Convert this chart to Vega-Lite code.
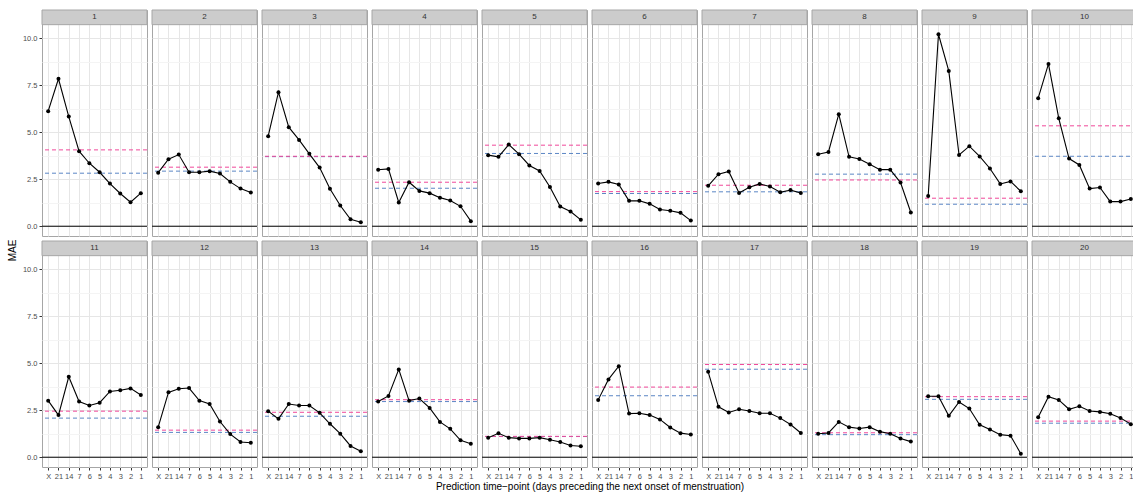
{
  "$schema": "https://vega.github.io/schema/vega-lite/v6.json",
  "padding": {"left": 8, "top": 8, "right": 0, "bottom": 2},
  "background": "white",
  "bounds": "flush",
  "title": {"text": "MAE", "orient": "left", "anchor": "middle", "fontSize": 10, "fontWeight": "normal", "font": "Liberation Sans", "color": "#000000", "offset": 4},
  "data": {"values": [
    {"panel":1,"kind":"mae","tp":"X","value":6.12},{"panel":1,"kind":"mae","tp":"21","value":7.84},{"panel":1,"kind":"mae","tp":"14","value":5.83},{"panel":1,"kind":"mae","tp":"7","value":3.99},{"panel":1,"kind":"mae","tp":"6","value":3.35},{"panel":1,"kind":"mae","tp":"5","value":2.87},{"panel":1,"kind":"mae","tp":"4","value":2.27},{"panel":1,"kind":"mae","tp":"3","value":1.74},{"panel":1,"kind":"mae","tp":"2","value":1.28},{"panel":1,"kind":"mae","tp":"1","value":1.76},
    {"panel":1,"kind":"pink","value":4.06},{"panel":1,"kind":"blue","value":2.82},
    {"panel":2,"kind":"mae","tp":"X","value":2.85},{"panel":2,"kind":"mae","tp":"21","value":3.56},{"panel":2,"kind":"mae","tp":"14","value":3.81},{"panel":2,"kind":"mae","tp":"7","value":2.87},{"panel":2,"kind":"mae","tp":"6","value":2.87},{"panel":2,"kind":"mae","tp":"5","value":2.93},{"panel":2,"kind":"mae","tp":"4","value":2.80},{"panel":2,"kind":"mae","tp":"3","value":2.36},{"panel":2,"kind":"mae","tp":"2","value":2.00},{"panel":2,"kind":"mae","tp":"1","value":1.79},
    {"panel":2,"kind":"pink","value":3.14},{"panel":2,"kind":"blue","value":2.93},
    {"panel":3,"kind":"mae","tp":"X","value":4.79},{"panel":3,"kind":"mae","tp":"21","value":7.13},{"panel":3,"kind":"mae","tp":"14","value":5.27},{"panel":3,"kind":"mae","tp":"7","value":4.59},{"panel":3,"kind":"mae","tp":"6","value":3.85},{"panel":3,"kind":"mae","tp":"5","value":3.12},{"panel":3,"kind":"mae","tp":"4","value":1.99},{"panel":3,"kind":"mae","tp":"3","value":1.10},{"panel":3,"kind":"mae","tp":"2","value":0.37},{"panel":3,"kind":"mae","tp":"1","value":0.21},
    {"panel":3,"kind":"pink","value":3.72},{"panel":3,"kind":"blue","value":3.70},
    {"panel":4,"kind":"mae","tp":"X","value":3.00},{"panel":4,"kind":"mae","tp":"21","value":3.05},{"panel":4,"kind":"mae","tp":"14","value":1.26},{"panel":4,"kind":"mae","tp":"7","value":2.34},{"panel":4,"kind":"mae","tp":"6","value":1.88},{"panel":4,"kind":"mae","tp":"5","value":1.76},{"panel":4,"kind":"mae","tp":"4","value":1.52},{"panel":4,"kind":"mae","tp":"3","value":1.37},{"panel":4,"kind":"mae","tp":"2","value":1.06},{"panel":4,"kind":"mae","tp":"1","value":0.27},
    {"panel":4,"kind":"pink","value":2.34},{"panel":4,"kind":"blue","value":2.02},
    {"panel":5,"kind":"mae","tp":"X","value":3.78},{"panel":5,"kind":"mae","tp":"21","value":3.69},{"panel":5,"kind":"mae","tp":"14","value":4.34},{"panel":5,"kind":"mae","tp":"7","value":3.83},{"panel":5,"kind":"mae","tp":"6","value":3.23},{"panel":5,"kind":"mae","tp":"5","value":2.94},{"panel":5,"kind":"mae","tp":"4","value":2.09},{"panel":5,"kind":"mae","tp":"3","value":1.05},{"panel":5,"kind":"mae","tp":"2","value":0.78},{"panel":5,"kind":"mae","tp":"1","value":0.34},
    {"panel":5,"kind":"pink","value":4.31},{"panel":5,"kind":"blue","value":3.87},
    {"panel":6,"kind":"mae","tp":"X","value":2.27},{"panel":6,"kind":"mae","tp":"21","value":2.36},{"panel":6,"kind":"mae","tp":"14","value":2.22},{"panel":6,"kind":"mae","tp":"7","value":1.35},{"panel":6,"kind":"mae","tp":"6","value":1.35},{"panel":6,"kind":"mae","tp":"5","value":1.19},{"panel":6,"kind":"mae","tp":"4","value":0.89},{"panel":6,"kind":"mae","tp":"3","value":0.82},{"panel":6,"kind":"mae","tp":"2","value":0.71},{"panel":6,"kind":"mae","tp":"1","value":0.30},
    {"panel":6,"kind":"pink","value":1.84},{"panel":6,"kind":"blue","value":1.74},
    {"panel":7,"kind":"mae","tp":"X","value":2.15},{"panel":7,"kind":"mae","tp":"21","value":2.77},{"panel":7,"kind":"mae","tp":"14","value":2.91},{"panel":7,"kind":"mae","tp":"7","value":1.77},{"panel":7,"kind":"mae","tp":"6","value":2.07},{"panel":7,"kind":"mae","tp":"5","value":2.25},{"panel":7,"kind":"mae","tp":"4","value":2.11},{"panel":7,"kind":"mae","tp":"3","value":1.81},{"panel":7,"kind":"mae","tp":"2","value":1.92},{"panel":7,"kind":"mae","tp":"1","value":1.77},
    {"panel":7,"kind":"pink","value":2.18},{"panel":7,"kind":"blue","value":1.83},
    {"panel":8,"kind":"mae","tp":"X","value":3.83},{"panel":8,"kind":"mae","tp":"21","value":3.95},{"panel":8,"kind":"mae","tp":"14","value":5.96},{"panel":8,"kind":"mae","tp":"7","value":3.69},{"panel":8,"kind":"mae","tp":"6","value":3.58},{"panel":8,"kind":"mae","tp":"5","value":3.30},{"panel":8,"kind":"mae","tp":"4","value":3.01},{"panel":8,"kind":"mae","tp":"3","value":3.01},{"panel":8,"kind":"mae","tp":"2","value":2.32},{"panel":8,"kind":"mae","tp":"1","value":0.73},
    {"panel":8,"kind":"pink","value":2.46},{"panel":8,"kind":"blue","value":2.77},
    {"panel":9,"kind":"mae","tp":"X","value":1.61},{"panel":9,"kind":"mae","tp":"21","value":10.21},{"panel":9,"kind":"mae","tp":"14","value":8.26},{"panel":9,"kind":"mae","tp":"7","value":3.79},{"panel":9,"kind":"mae","tp":"6","value":4.26},{"panel":9,"kind":"mae","tp":"5","value":3.71},{"panel":9,"kind":"mae","tp":"4","value":3.07},{"panel":9,"kind":"mae","tp":"3","value":2.25},{"panel":9,"kind":"mae","tp":"2","value":2.38},{"panel":9,"kind":"mae","tp":"1","value":1.86},
    {"panel":9,"kind":"pink","value":1.49},{"panel":9,"kind":"blue","value":1.17},
    {"panel":10,"kind":"mae","tp":"X","value":6.81},{"panel":10,"kind":"mae","tp":"21","value":8.63},{"panel":10,"kind":"mae","tp":"14","value":5.74},{"panel":10,"kind":"mae","tp":"7","value":3.60},{"panel":10,"kind":"mae","tp":"6","value":3.26},{"panel":10,"kind":"mae","tp":"5","value":2.00},{"panel":10,"kind":"mae","tp":"4","value":2.06},{"panel":10,"kind":"mae","tp":"3","value":1.31},{"panel":10,"kind":"mae","tp":"2","value":1.31},{"panel":10,"kind":"mae","tp":"1","value":1.45},
    {"panel":10,"kind":"pink","value":5.34},{"panel":10,"kind":"blue","value":3.72},
    {"panel":11,"kind":"mae","tp":"X","value":3.01},{"panel":11,"kind":"mae","tp":"21","value":2.24},{"panel":11,"kind":"mae","tp":"14","value":4.28},{"panel":11,"kind":"mae","tp":"7","value":2.96},{"panel":11,"kind":"mae","tp":"6","value":2.75},{"panel":11,"kind":"mae","tp":"5","value":2.90},{"panel":11,"kind":"mae","tp":"4","value":3.50},{"panel":11,"kind":"mae","tp":"3","value":3.56},{"panel":11,"kind":"mae","tp":"2","value":3.66},{"panel":11,"kind":"mae","tp":"1","value":3.31},
    {"panel":11,"kind":"pink","value":2.45},{"panel":11,"kind":"blue","value":2.08},
    {"panel":12,"kind":"mae","tp":"X","value":1.60},{"panel":12,"kind":"mae","tp":"21","value":3.45},{"panel":12,"kind":"mae","tp":"14","value":3.64},{"panel":12,"kind":"mae","tp":"7","value":3.68},{"panel":12,"kind":"mae","tp":"6","value":3.01},{"panel":12,"kind":"mae","tp":"5","value":2.83},{"panel":12,"kind":"mae","tp":"4","value":1.90},{"panel":12,"kind":"mae","tp":"3","value":1.23},{"panel":12,"kind":"mae","tp":"2","value":0.81},{"panel":12,"kind":"mae","tp":"1","value":0.77},
    {"panel":12,"kind":"pink","value":1.44},{"panel":12,"kind":"blue","value":1.32},
    {"panel":13,"kind":"mae","tp":"X","value":2.45},{"panel":13,"kind":"mae","tp":"21","value":2.04},{"panel":13,"kind":"mae","tp":"14","value":2.83},{"panel":13,"kind":"mae","tp":"7","value":2.75},{"panel":13,"kind":"mae","tp":"6","value":2.75},{"panel":13,"kind":"mae","tp":"5","value":2.36},{"panel":13,"kind":"mae","tp":"4","value":1.78},{"panel":13,"kind":"mae","tp":"3","value":1.25},{"panel":13,"kind":"mae","tp":"2","value":0.60},{"panel":13,"kind":"mae","tp":"1","value":0.32},
    {"panel":13,"kind":"pink","value":2.39},{"panel":13,"kind":"blue","value":2.18},
    {"panel":14,"kind":"mae","tp":"X","value":2.96},{"panel":14,"kind":"mae","tp":"21","value":3.26},{"panel":14,"kind":"mae","tp":"14","value":4.67},{"panel":14,"kind":"mae","tp":"7","value":3.01},{"panel":14,"kind":"mae","tp":"6","value":3.12},{"panel":14,"kind":"mae","tp":"5","value":2.62},{"panel":14,"kind":"mae","tp":"4","value":1.88},{"panel":14,"kind":"mae","tp":"3","value":1.51},{"panel":14,"kind":"mae","tp":"2","value":0.90},{"panel":14,"kind":"mae","tp":"1","value":0.72},
    {"panel":14,"kind":"pink","value":3.06},{"panel":14,"kind":"blue","value":2.96},
    {"panel":15,"kind":"mae","tp":"X","value":1.04},{"panel":15,"kind":"mae","tp":"21","value":1.27},{"panel":15,"kind":"mae","tp":"14","value":1.04},{"panel":15,"kind":"mae","tp":"7","value":1.00},{"panel":15,"kind":"mae","tp":"6","value":1.00},{"panel":15,"kind":"mae","tp":"5","value":1.04},{"panel":15,"kind":"mae","tp":"4","value":0.93},{"panel":15,"kind":"mae","tp":"3","value":0.81},{"panel":15,"kind":"mae","tp":"2","value":0.62},{"panel":15,"kind":"mae","tp":"1","value":0.58},
    {"panel":15,"kind":"pink","value":1.11},{"panel":15,"kind":"blue","value":1.10},
    {"panel":16,"kind":"mae","tp":"X","value":3.05},{"panel":16,"kind":"mae","tp":"21","value":4.14},{"panel":16,"kind":"mae","tp":"14","value":4.84},{"panel":16,"kind":"mae","tp":"7","value":2.32},{"panel":16,"kind":"mae","tp":"6","value":2.34},{"panel":16,"kind":"mae","tp":"5","value":2.24},{"panel":16,"kind":"mae","tp":"4","value":2.01},{"panel":16,"kind":"mae","tp":"3","value":1.58},{"panel":16,"kind":"mae","tp":"2","value":1.28},{"panel":16,"kind":"mae","tp":"1","value":1.21},
    {"panel":16,"kind":"pink","value":3.73},{"panel":16,"kind":"blue","value":3.27},
    {"panel":17,"kind":"mae","tp":"X","value":4.54},{"panel":17,"kind":"mae","tp":"21","value":2.68},{"panel":17,"kind":"mae","tp":"14","value":2.38},{"panel":17,"kind":"mae","tp":"7","value":2.55},{"panel":17,"kind":"mae","tp":"6","value":2.46},{"panel":17,"kind":"mae","tp":"5","value":2.34},{"panel":17,"kind":"mae","tp":"4","value":2.34},{"panel":17,"kind":"mae","tp":"3","value":2.08},{"panel":17,"kind":"mae","tp":"2","value":1.74},{"panel":17,"kind":"mae","tp":"1","value":1.29},
    {"panel":17,"kind":"pink","value":4.93},{"panel":17,"kind":"blue","value":4.68},
    {"panel":18,"kind":"mae","tp":"X","value":1.25},{"panel":18,"kind":"mae","tp":"21","value":1.29},{"panel":18,"kind":"mae","tp":"14","value":1.88},{"panel":18,"kind":"mae","tp":"7","value":1.60},{"panel":18,"kind":"mae","tp":"6","value":1.53},{"panel":18,"kind":"mae","tp":"5","value":1.60},{"panel":18,"kind":"mae","tp":"4","value":1.36},{"panel":18,"kind":"mae","tp":"3","value":1.25},{"panel":18,"kind":"mae","tp":"2","value":1.00},{"panel":18,"kind":"mae","tp":"1","value":0.83},
    {"panel":18,"kind":"pink","value":1.30},{"panel":18,"kind":"blue","value":1.20},
    {"panel":19,"kind":"mae","tp":"X","value":3.24},{"panel":19,"kind":"mae","tp":"21","value":3.24},{"panel":19,"kind":"mae","tp":"14","value":2.20},{"panel":19,"kind":"mae","tp":"7","value":2.94},{"panel":19,"kind":"mae","tp":"6","value":2.59},{"panel":19,"kind":"mae","tp":"5","value":1.73},{"panel":19,"kind":"mae","tp":"4","value":1.48},{"panel":19,"kind":"mae","tp":"3","value":1.20},{"panel":19,"kind":"mae","tp":"2","value":1.14},{"panel":19,"kind":"mae","tp":"1","value":0.19},
    {"panel":19,"kind":"pink","value":3.22},{"panel":19,"kind":"blue","value":3.08},
    {"panel":20,"kind":"mae","tp":"X","value":2.13},{"panel":20,"kind":"mae","tp":"21","value":3.22},{"panel":20,"kind":"mae","tp":"14","value":3.05},{"panel":20,"kind":"mae","tp":"7","value":2.55},{"panel":20,"kind":"mae","tp":"6","value":2.71},{"panel":20,"kind":"mae","tp":"5","value":2.46},{"panel":20,"kind":"mae","tp":"4","value":2.41},{"panel":20,"kind":"mae","tp":"3","value":2.31},{"panel":20,"kind":"mae","tp":"2","value":2.08},{"panel":20,"kind":"mae","tp":"1","value":1.76},
    {"panel":20,"kind":"pink","value":1.92},{"panel":20,"kind":"blue","value":1.81}
  ]},
  "facet": {
    "field": "panel", "type": "ordinal",
    "title": "Prediction time−point (days preceding the next onset of menstruation)",
    "header": {"labels": false, "labelExpr": "''", "labelFontSize": 0.01, "labelPadding": 0, "titleOrient": "bottom", "titleFont": "Liberation Sans", "titleFontSize": 10, "titleFontWeight": "normal", "titleColor": "#000000", "titlePadding": 2}
  },
  "columns": 10,
  "spacing": 5,
  "resolve": {"scale": {"y": "shared", "x": "shared"}},
  "spec": {
    "width": 105,
    "height": 226,
    "encoding": {
      "x": {"field": "tp", "type": "ordinal",
        "scale": {"type": "point", "padding": 0.6, "domain": ["X","21","14","7","6","5","4","3","2","1"]},
        "axis": {"title": null, "labelAngle": 0, "labelFontSize": 7.5, "labelColor": "#4D4D4D", "labelFont": "Liberation Sans", "tickSize": 3, "tickColor": "#333333", "labelPadding": 2, "domain": false, "grid": true, "gridColor": "#E6E6E6", "gridWidth": 1}},
      "y": {"field": "value", "type": "quantitative",
        "scale": {"domain": [-0.52, 11.5], "nice": false, "zero": false},
        "axis": {"title": null, "values": [0, 1.25, 2.5, 3.75, 5, 6.25, 7.5, 8.75, 10],
          "labelExpr": "datum.value % 2.5 === 0 ? format(datum.value, '.1f') : ''",
          "labelFontSize": 7.5, "labelColor": "#4D4D4D", "labelFont": "Liberation Sans", "tickSize": 3, "labelPadding": 2, "domain": false,
          "tickColor": "#333333",
          "tickOpacity": {"condition": {"test": "datum.value % 2.5 !== 0", "value": 0}, "value": 1},
          "grid": true, "gridWidth": 1,
          "gridColor": {"condition": {"test": "datum.value % 2.5 !== 0", "value": "#F4F4F4"}, "value": "#E6E6E6"}}}
    },
    "layer": [
      {"transform": [{"filter": "datum.kind === 'pink'"}],
       "mark": {"type": "rect", "fill": "#CCCCCC", "stroke": "#A6A6A6", "strokeWidth": 1},
       "encoding": {"x": null, "y": {"datum": 10.72}, "y2": {"datum": 11.5}}},
      {"transform": [{"filter": "datum.kind === 'pink'"}],
       "mark": {"type": "text", "font": "Liberation Sans", "fontSize": 8, "color": "#333333", "baseline": "middle"},
       "encoding": {"x": null, "y": {"datum": 11.11}, "text": {"field": "panel", "type": "nominal"}}},
      {"transform": [{"filter": "datum.kind === 'pink'"}],
       "mark": {"type": "rule", "color": "#000000", "strokeWidth": 1},
       "encoding": {"x": null, "y": {"datum": 0}}},
      {"transform": [{"filter": "datum.kind === 'blue'"}],
       "mark": {"type": "rule", "color": "#5B86C5", "strokeWidth": 1, "strokeDash": [4, 3]},
       "encoding": {"x": null}},
      {"transform": [{"filter": "datum.kind === 'pink'"}],
       "mark": {"type": "rule", "color": "#F0489A", "strokeWidth": 1, "strokeDash": [4, 3]},
       "encoding": {"x": null}},
      {"transform": [{"filter": "datum.kind === 'mae'"}],
       "mark": {"type": "line", "color": "#000000", "strokeWidth": 1.1}},
      {"transform": [{"filter": "datum.kind === 'mae'"}],
       "mark": {"type": "point", "filled": true, "color": "#000000", "opacity": 1, "size": 16}}
    ]
  },
  "config": {
    "view": {"stroke": "#A6A6A6", "strokeWidth": 1},
    "font": "Liberation Sans"
  }
}
